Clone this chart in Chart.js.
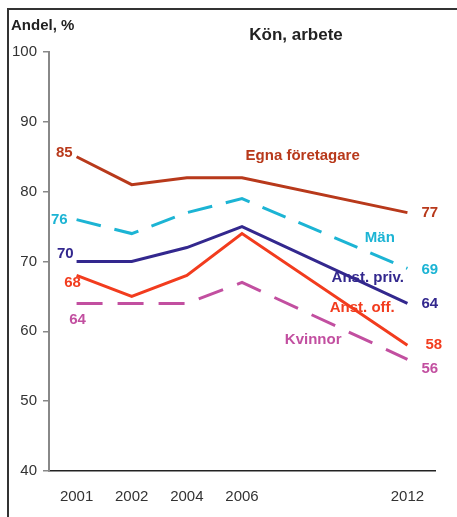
<!DOCTYPE html>
<html>
<head>
<meta charset="utf-8">
<script src="https://cdn.jsdelivr.net/npm/chart.js@4"></script>
<style>
  body { margin: 0; background: #fff; }
  #wrap { width: 457px; height: 517px; }
</style>
</head>
<body>
<div id="wrap"><canvas id="myChart" width="457" height="517"></canvas></div>
<script>
// years (two empty slots keep the gap between 2006 and 2012)
var years = ['2001', '2002', '2004', '2006', '', '', '2012'];
var egna = [85, 81, 82, 82, null, null, 77];
var man = [76, 74, 77, 79, null, null, 69];
var anstPriv = [70, 70, 72, 75, null, null, 64];
var anstOff = [68, 65, 68, 74, null, null, 58];
var kvinnor = [64, 64, 64, 67, null, null, 56];
var names = ['Egna företagare', 'Män', 'Anst. priv.', 'Anst. off.', 'Kvinnor'];

var fontFam = '"Liberation Sans", Arial, sans-serif';
var colores = ['#b8391b', '#1cb4d4', '#33288e', '#f23c1e', '#c24fa0'];

// where the text goes next to each line: [name x, name y (in data units), start dx, start dy, end dx, end dy, start align]
var marcas = [
    [4.1, 85.1, -4, -4, 14, 0, 'right'],
    [5.5, 73.4, -9, 0, 14, 1, 'right'],
    [5.28, 67.6, -3, -8, 14, 0, 'right'],
    [5.18, 63.3, -4, 7, 18, 0, 'center'],
    [4.29, 58.8, 1, 16, 14, 10, 'center']
];

const textos = {
    id: 'textos',
    beforeDraw(chart) {
        const ctx = chart.ctx;
        ctx.save();
        ctx.fillStyle = '#fff';
        ctx.fillRect(0, 0, chart.width, chart.height);
        // marco
        ctx.strokeStyle = '#333';
        ctx.lineWidth = 2;
        ctx.beginPath();
        ctx.moveTo(8, 517);
        ctx.lineTo(8, 9);
        ctx.lineTo(457, 9);
        ctx.stroke();
        ctx.fillStyle = '#222';
        ctx.textBaseline = 'middle';
        ctx.font = 'bold 15px ' + fontFam;
        ctx.textAlign = 'left';
        ctx.fillText('Andel, %', 11, 26);
        ctx.font = 'bold 17px ' + fontFam;
        ctx.textAlign = 'center';
        ctx.fillText('Kön, arbete', 296, 35);
        ctx.restore();
    },
    afterDatasetsDraw(chart) {
        const ctx = chart.ctx;
        const xs = chart.scales.x;
        const ys = chart.scales.y;
        ctx.save();
        ctx.textBaseline = 'middle';
        ctx.font = 'bold 15px ' + fontFam;
        chart.data.datasets.forEach(function (ds, i) {
            var m = marcas[i];
            ctx.fillStyle = colores[i];
            var v0 = ds.data[0];
            var v1 = ds.data[ds.data.length - 1];
            var x0 = xs.getPixelForValue(0);
            var x1 = xs.getPixelForValue(ds.data.length - 1);
            ctx.textAlign = m[6];
            ctx.fillText(String(v0), x0 + m[2], ys.getPixelForValue(v0) + m[3]);
            ctx.textAlign = 'left';
            ctx.fillText(String(v1), x1 + m[4], ys.getPixelForValue(v1) + m[5]);
            ctx.textAlign = 'center';
            ctx.fillText(names[i], xs.getPixelForValue(m[0]), ys.getPixelForValue(m[1]));
        });
        ctx.restore();
    }
};

function serie(label, data, i, dash) {
    return {
        label: label,
        data: data,
        borderColor: colores[i],
        backgroundColor: colores[i],
        borderWidth: 3,
        borderDash: dash,
        pointRadius: 0,
        tension: 0,
        spanGaps: true,
        fill: false
    };
}

const data = {
    labels: years,
    datasets: [
        serie(names[0], egna, 0, []),
        serie(names[1], man, 1, [25, 14]),
        serie(names[2], anstPriv, 2, []),
        serie(names[3], anstOff, 3, []),
        serie(names[4], kvinnor, 4, [26, 15])
    ]
};

const config = {
    type: 'line',
    data: data,
    options: {
        responsive: false,
        animation: false,
        layout: { padding: { top: 52, right: 22, left: 0, bottom: 0 } },
        plugins: {
            legend: { display: false },
            tooltip: { enabled: false }
        },
        scales: {
            x: {
                offset: true,
                grid: { display: false },
                border: { display: true, color: '#222', width: 1.5 },
                ticks: {
                    autoSkip: false,
                    maxRotation: 0,
                    padding: 9,
                    color: '#333',
                    font: { family: fontFam, size: 15 }
                },
                afterFit: function (s) { s.height = 46; }
            },
            y: {
                min: 40,
                max: 100,
                ticks: {
                    stepSize: 10,
                    padding: 6,
                    color: '#333',
                    font: { family: fontFam, size: 15 }
                },
                grid: { drawOnChartArea: false, drawTicks: true, tickLength: 6, color: '#888', lineWidth: 1.5 },
                border: { display: true, color: '#888', width: 2 },
                afterFit: function (s) { s.width = 49; }
            }
        }
    },
    plugins: [textos]
};

const myChart = new Chart(document.getElementById('myChart'), config);
</script>
</body>
</html>
